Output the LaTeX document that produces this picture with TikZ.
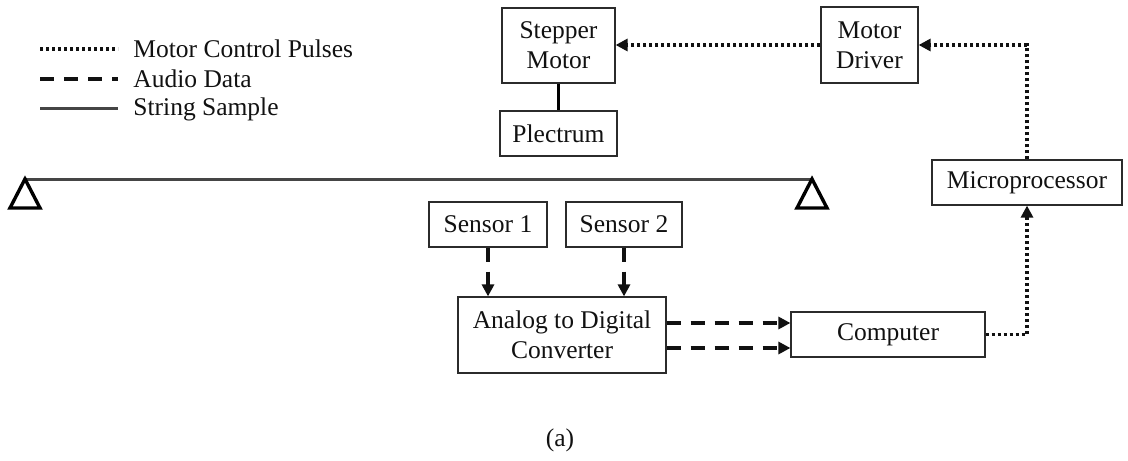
\documentclass[tikz,border=0pt]{standalone}
\usepackage{fontspec}
\setmainfont{Liberation Serif}
\usetikzlibrary{arrows.meta,positioning,calc}
\definecolor{ink}{HTML}{111111}
\definecolor{edge}{HTML}{2B2B2B}
\definecolor{strg}{HTML}{454545}
\tikzset{
  every node/.style={font=\fontsize{12.75}{15}\selectfont,text=ink},
  box/.style={draw=edge,line width=.6pt,align=center,inner sep=0pt,minimum height=22.5pt},
  dotline/.style={line width=1.8pt,dash pattern=on 1.7pt off 1.3pt,draw=ink},
  dashline/.style={line width=1.9pt,dash pattern=on 7pt off 5pt,draw=ink},
  dotarr/.style={dotline,-{Triangle[length=6pt,width=6pt]}},
  dasharr/.style={dashline,-{Triangle[length=6pt,width=6pt]}},
  strline/.style={line width=1.5pt,draw=strg},
  pin/.style={line width=1.7pt,draw=black,line join=miter},
  legendtxt/.style={anchor=west,inner sep=0pt}
}
\begin{document}
\begin{tikzpicture}[x=0.5pt,y=-0.5pt]
\path[use as bounding box] (0,0) rectangle (1128,460);
% legend
\coordinate (k1) at (40,49);
\coordinate (k2) at (40,79);
\coordinate (k3) at (40,109);
\draw[dotline] (k1) -- ++(78,0);
\draw[dashline] (k2) -- ++(78,0);
\draw[strline] (k3) -- ++(78,0);
\node[legendtxt] (lgdot) at (133,49) {Motor Control Pulses};
\node[legendtxt] (lgdash) at (133,79) {Audio Data};
\node[legendtxt] (lgstr) at (133,109) {String Sample};
% boxes
\node[box,minimum width=56.5pt,minimum height=37.5pt] (stepper) at (558.5,45.5) {Stepper\\Motor};
\node[box,minimum width=58.5pt] (plectrum) at (558.5,133.5) {Plectrum};
\node[box,minimum width=48.5pt,minimum height=38pt] (driver) at (869.5,45) {Motor\\Driver};
\node[box,minimum width=95pt] (micro) at (1027,182.5) {Microprocessor};
\node[box,minimum width=59pt] (sensorA) at (488,224.5) {Sensor 1};
\node[box,minimum width=58pt] (sensorB) at (624,224.5) {Sensor 2};
\node[box,minimum width=104pt,minimum height=38pt] (adc) at (562,335) {Analog to Digital\\Converter};
\node[box,minimum width=97pt] (computer) at (888,334.5) {Computer};
% string and supports
\coordinate (pinL) at (25,179);
\coordinate (pinR) at (812,179);
\draw[strline] (pinL) -- (pinR);
\draw[pin] (pinL) -- ++(-15,29) -- ++(30,0) -- cycle;
\draw[pin] (pinR) -- ++(-15,29) -- ++(30,0) -- cycle;
% connectors
\draw[line width=1.5pt] (stepper) -- (plectrum);
\draw[dotarr] (driver.west) -- (driver.west -| stepper.east);
\draw[dotarr] (micro.north) |- (driver.east);
\draw[dotarr] (computer.east) -| (micro.south);
\draw[dasharr] (sensorA.south) -- (sensorA.south |- adc.north);
\draw[dasharr] (sensorB.south) -- (sensorB.south |- adc.north);
\draw[dasharr] ([yshift=6pt]adc.east) -- ([yshift=6pt]adc.east -| computer.west);
\draw[dasharr] ([yshift=-6.5pt]adc.east) -- ([yshift=-6.5pt]adc.east -| computer.west);
\node (cap) at (560,440) {(a)};
\end{tikzpicture}
\end{document}
